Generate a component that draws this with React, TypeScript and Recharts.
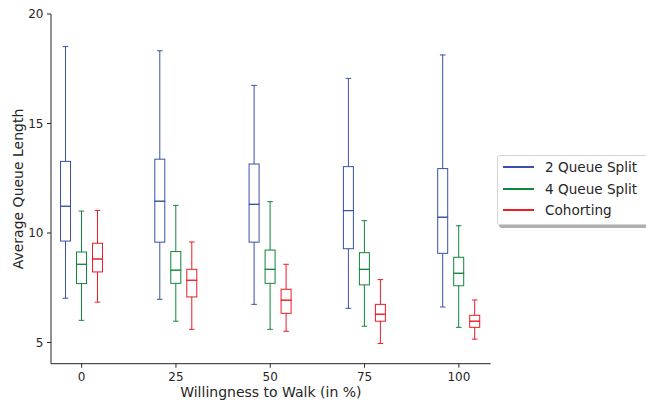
import { ComposedChart, Bar, XAxis, YAxis, Label } from "recharts";

// box stats, one array per statistic
const categories = ["0", "25", "50", "75", "100"];

const twoMin = [7.02, 6.97, 6.74, 6.56, 6.62];
const twoQ1 = [9.63, 9.58, 9.58, 9.28, 9.07];
const twoMed = [11.22, 11.45, 11.31, 11.02, 10.72];
const twoQ3 = [13.27, 13.37, 13.15, 13.03, 12.94];
const twoMax = [18.51, 18.32, 16.74, 17.06, 18.13];

const fourMin = [6.01, 5.97, 5.6, 5.74, 5.69];
const fourQ1 = [7.69, 7.7, 7.7, 7.63, 7.59];
const fourMed = [8.57, 8.3, 8.34, 8.34, 8.16];
const fourQ3 = [9.13, 9.15, 9.22, 9.1, 8.89];
const fourMax = [11.0, 11.26, 11.43, 10.56, 10.33];

const cohMin = [6.84, 5.6, 5.51, 4.95, 5.15];
const cohQ1 = [8.22, 7.08, 6.33, 5.97, 5.69];
const cohMed = [8.81, 7.84, 6.93, 6.29, 5.97];
const cohQ3 = [9.53, 8.34, 7.43, 6.74, 6.24];
const cohMax = [11.03, 9.59, 8.57, 7.87, 6.94];

const yTicks = [5, 10, 15, 20];

const series = [
  { key: "two", name: "2 Queue Split", color: "#3850a8", min: twoMin, q1: twoQ1, med: twoMed, q3: twoQ3, max: twoMax },
  { key: "four", name: "4 Queue Split", color: "#12843c", min: fourMin, q1: fourQ1, med: fourMed, q3: fourQ3, max: fourMax },
  { key: "coh", name: "Cohorting", color: "#ec1c24", min: cohMin, q1: cohQ1, med: cohMed, q3: cohQ3, max: cohMax },
];

// stacked segments: base (hidden) -> lower whisker -> lower box -> upper box -> upper whisker
const data = categories.map((cat, i) => {
  const row: any = { cat };
  series.forEach((s) => {
    row[`${s.key}_base`] = s.min[i];
    row[`${s.key}_wl`] = s.q1[i] - s.min[i];
    row[`${s.key}_bl`] = s.med[i] - s.q1[i];
    row[`${s.key}_bh`] = s.q3[i] - s.med[i];
    row[`${s.key}_wh`] = s.max[i] - s.q3[i];
  });
  return row;
});

const FONT = "'DejaVu Sans', sans-serif";
const INK = "#262626";

const hidden = () => <g />;

const whiskerLow = (color: string) => (p: any) => {
  const cx = p.x + p.width / 2;
  const bottom = p.y + p.height;
  return (
    <g>
      <line x1={cx} x2={cx} y1={p.y} y2={bottom} stroke={color} strokeWidth={1} />
      <line x1={cx - 2.8} x2={cx + 2.8} y1={bottom} y2={bottom} stroke={color} strokeWidth={1} />
    </g>
  );
};

const whiskerHigh = (color: string) => (p: any) => {
  const cx = p.x + p.width / 2;
  return (
    <g>
      <line x1={cx} x2={cx} y1={p.y} y2={p.y + p.height} stroke={color} strokeWidth={1} />
      <line x1={cx - 2.8} x2={cx + 2.8} y1={p.y} y2={p.y} stroke={color} strokeWidth={1} />
    </g>
  );
};

const boxPart = (color: string) => (p: any) => (
  <rect x={p.x} y={p.y} width={p.width} height={p.height} fill="none" stroke={color} strokeWidth={1} />
);

export default function App() {
  return (
    <div
      style={{
        position: "absolute",
        left: 0,
        top: 0,
        width: 646,
        height: 404,
        overflow: "hidden",
        background: "#fff",
        fontFamily: FONT,
      }}
    >
      <ComposedChart
        width={646}
        height={404}
        data={data}
        margin={{ top: 14, right: 155.3, bottom: 0, left: 0 }}
        barSize={10}
        barGap={6}
      >
        <XAxis
          dataKey="cat"
          height={40.3}
          padding={{ left: -16.5, right: -15.3 }}
          tickSize={4}
          tickMargin={5}
          stroke={INK}
          tick={{ fill: INK, fontSize: 12, fontFamily: FONT }}
        >
          <Label
            content={(props: any) => {
              const vb = props.viewBox;
              return (
                <text
                  x={vb.x + vb.width / 2}
                  y={397}
                  textAnchor="middle"
                  fill={INK}
                  fontSize={14}
                  fontFamily={FONT}
                >
                  Willingness to Walk (in %)
                </text>
              );
            }}
          />
        </XAxis>
        <YAxis
          width={51}
          domain={[4.03, 20]}
          allowDataOverflow
          ticks={yTicks}
          tickSize={4}
          tickMargin={3.5}
          stroke={INK}
          tick={{ fill: INK, fontSize: 12, fontFamily: FONT }}
        >
          <Label
            content={() => (
              <text
                x={0}
                y={0}
                transform="translate(22.5 189) rotate(-90)"
                textAnchor="middle"
                fill={INK}
                fontSize={14}
                fontFamily={FONT}
              >
                Average Queue Length
              </text>
            )}
          />
        </YAxis>
        {series.map((s) => [
          <Bar key={`${s.key}_base`} dataKey={`${s.key}_base`} stackId={s.key} shape={hidden} isAnimationActive={false} />,
          <Bar key={`${s.key}_wl`} dataKey={`${s.key}_wl`} stackId={s.key} shape={whiskerLow(s.color)} isAnimationActive={false} />,
          <Bar key={`${s.key}_bl`} dataKey={`${s.key}_bl`} stackId={s.key} shape={boxPart(s.color)} isAnimationActive={false} />,
          <Bar key={`${s.key}_bh`} dataKey={`${s.key}_bh`} stackId={s.key} shape={boxPart(s.color)} isAnimationActive={false} />,
          <Bar key={`${s.key}_wh`} dataKey={`${s.key}_wh`} stackId={s.key} shape={whiskerHigh(s.color)} isAnimationActive={false} />,
        ])}
      </ComposedChart>

      <div
        style={{
          position: "absolute",
          left: 497,
          top: 155,
          width: 200,
          height: 68,
          background: "#fff",
          border: "1px solid #d6d6d6",
          borderRadius: 3,
          boxShadow: "2px 3px 0 #b0b0b0",
        }}
      >
        {series.map((s, i) => (
          <div
            key={s.key}
            style={{
              position: "absolute",
              left: 0,
              top: 11 + i * 21.7 - 10,
              height: 20,
              display: "flex",
              alignItems: "center",
            }}
          >
            <div style={{ width: 31, height: 2, background: s.color, marginLeft: 5 }} />
            <span style={{ marginLeft: 11, fontSize: 13.6, color: INK, whiteSpace: "nowrap" }}>{s.name}</span>
          </div>
        ))}
      </div>
    </div>
  );
}
